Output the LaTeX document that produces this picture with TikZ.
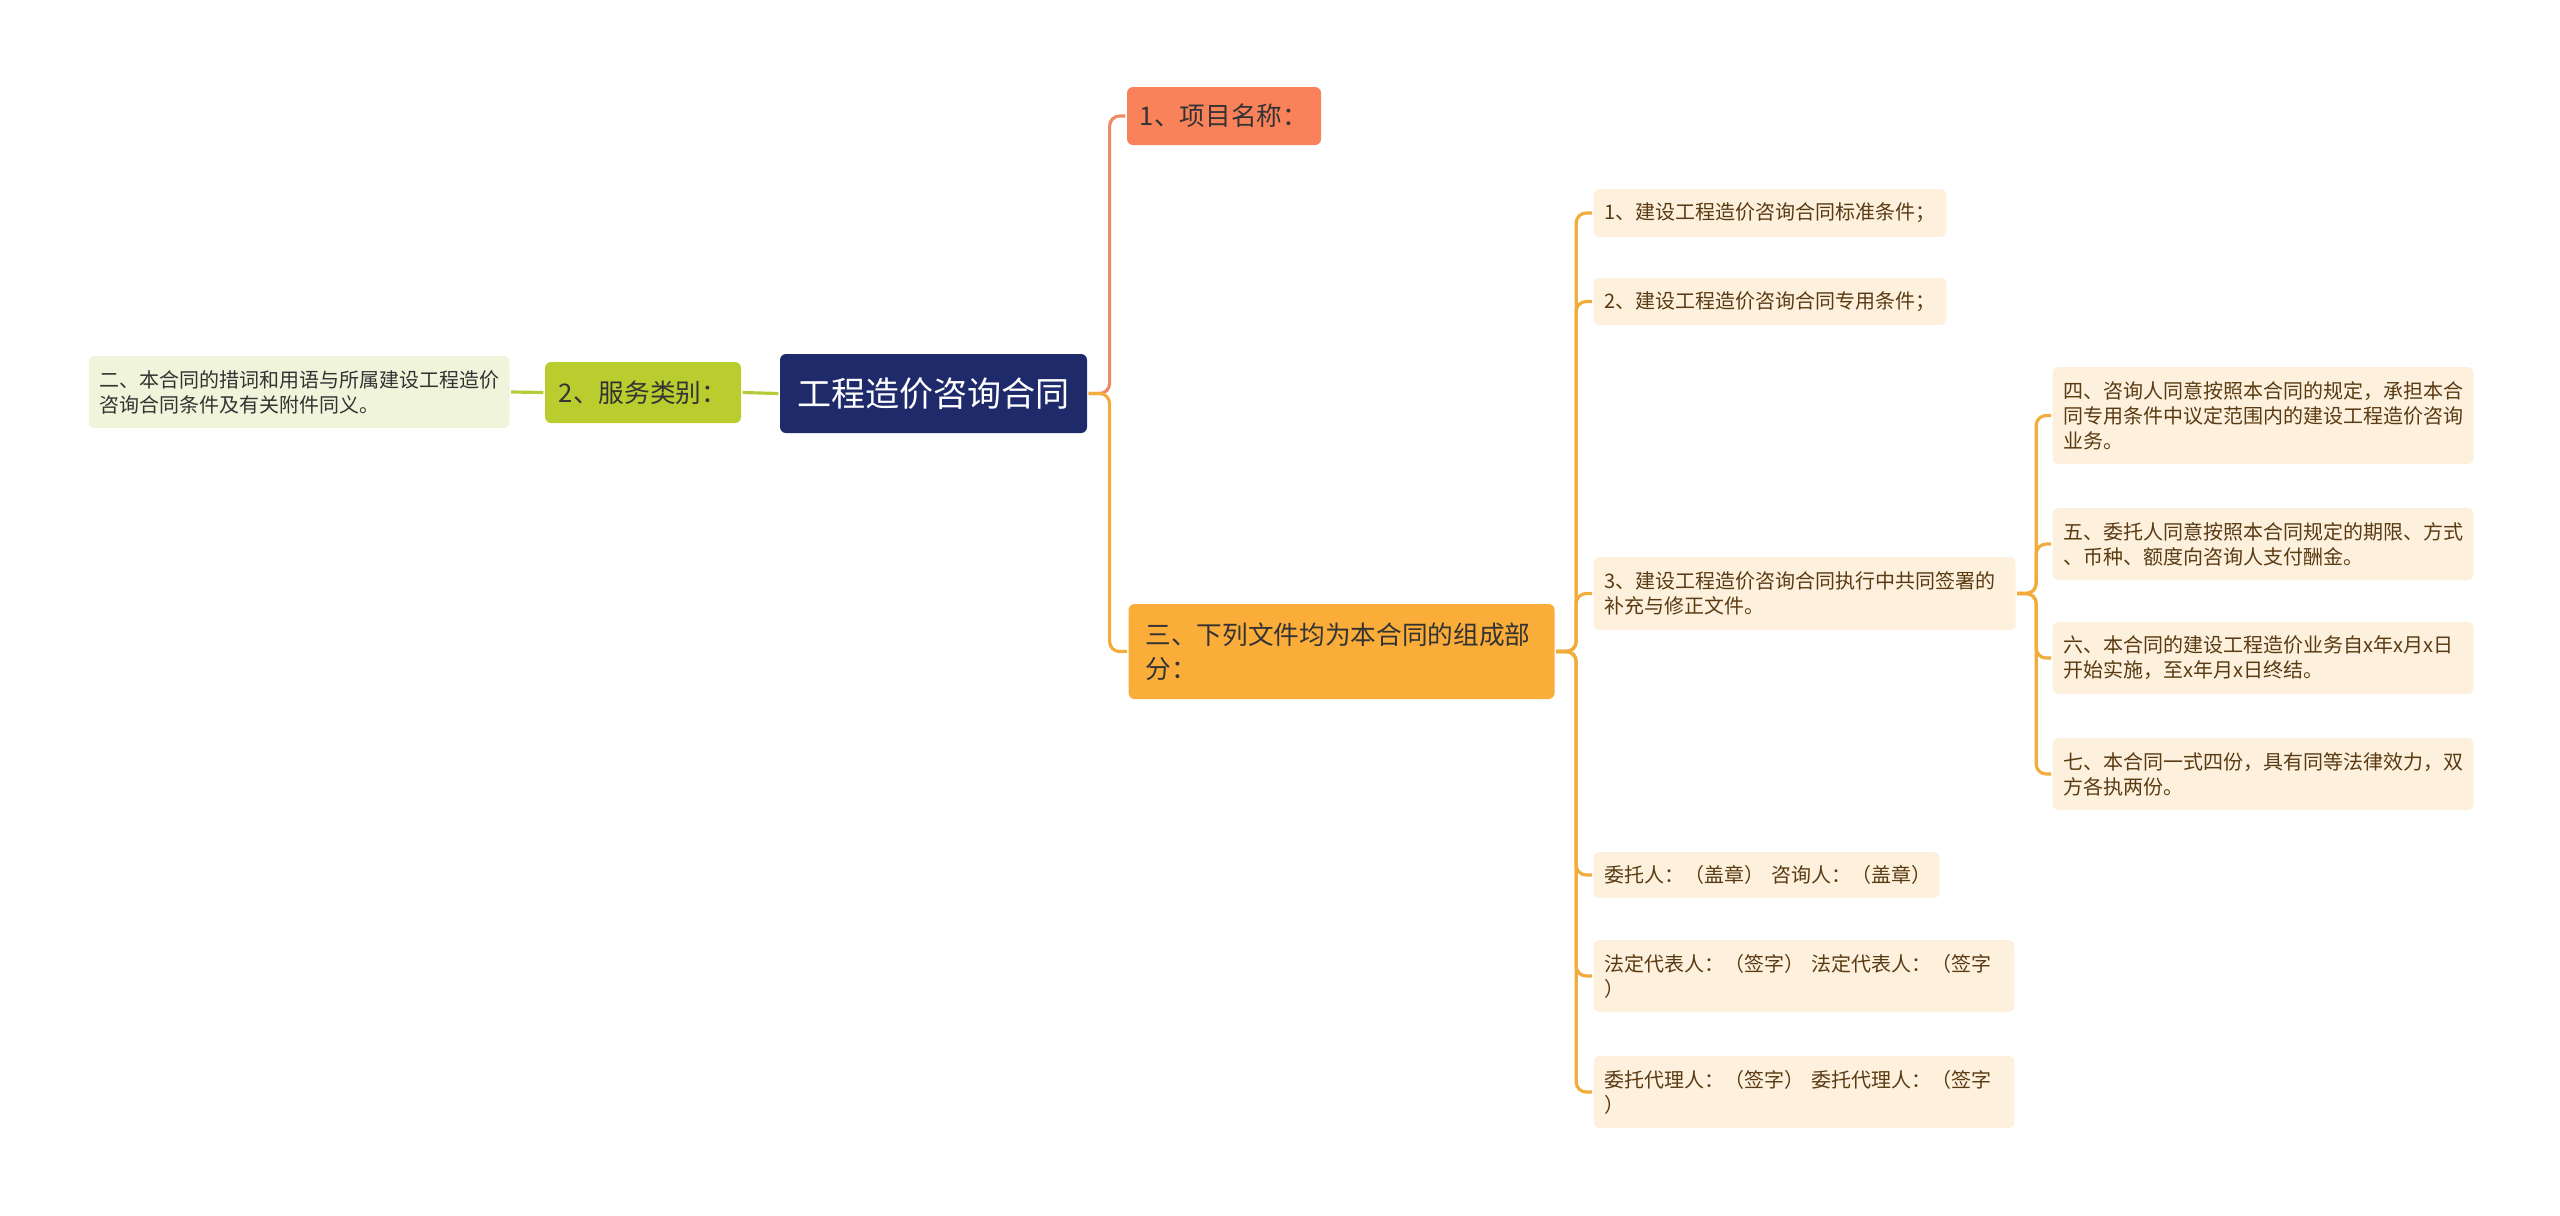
\documentclass[tikz,border=0pt]{standalone}
\usepackage{fontspec}
\setmainfont{Noto Sans CJK SC}
\usepackage{color}
\usepackage{tikz}
\definecolor{rootfill}{HTML}{1F2A6B}
\definecolor{greenfill}{HTML}{B9CD2E}
\definecolor{notefill}{HTML}{F0F4DA}
\definecolor{namefill}{HTML}{F9825A}
\definecolor{docsfill}{HTML}{FBAD3A}
\definecolor{leaffill}{HTML}{FDF1DD}
\definecolor{leaftext}{HTML}{5A3A12}
\definecolor{coralline}{HTML}{EE8A66}
\definecolor{orangeline}{HTML}{F2AC3C}
\definecolor{greenline}{HTML}{B7CA38}

\begin{document}
\begin{tikzpicture}[x=1cm, y=-1cm, line width = 0.9pt,
    box/.style = {rounded corners = 0.06cm, inner ysep = 0pt},
    topic/.style = {box, font = \fontsize{7.3}{9.6}\selectfont, text = black!80},
    leaf/.style = {box, anchor = west, fill = leaffill, text = leaftext, align = left,
        inner xsep = 0.11cm, font = \fontsize{5.69}{7.1}\selectfont},
    link/.style = {rounded corners = 0.1cm}]
\useasboundingbox (0,0) rectangle (25.6,12.15);
\draw (9.335,3.935) node[box, fill = rootfill, text = white, minimum width = 3.07cm,
        minimum height = 0.79cm, font = \fontsize{9.7}{12}\selectfont](root){工程造价咨询合同}
    (6.43,3.925) node[topic, fill = greenfill, minimum width = 1.96cm, minimum height = 0.61cm](svc){2、服务类别：}
    (0.87,3.92) node[leaf, fill = notefill, text = black!80, text width = 3.99cm, minimum height = 0.72cm](note){二、本合同的措词和用语与所属建设工程造价\\咨询合同条件及有关附件同义。}
    (12.24,1.16) node[topic, fill = namefill, minimum width = 1.94cm, minimum height = 0.58cm](name){1、项目名称：}
    (11.27,6.515) node[topic, anchor = west, fill = docsfill, align = left, inner xsep = 0.17cm,
        text width = 3.92cm, minimum height = 0.95cm](docs){三、下列文件均为本合同的组成部\\分：};
\draw (15.92,2.13) node[leaf, text width = 3.31cm, minimum height = 0.48cm](d1){1、建设工程造价咨询合同标准条件；}
    (15.92,3.015) node[leaf, text width = 3.31cm, minimum height = 0.47cm](d2){2、建设工程造价咨询合同专用条件；}
    (15.92,5.935) node[leaf, text width = 4.00cm, minimum height = 0.73cm](d3){3、建设工程造价咨询合同执行中共同签署的\\补充与修正文件。}
    (15.92,8.75) node[leaf, text width = 3.24cm, minimum height = 0.46cm](d4){委托人：（盖章）~咨询人：（盖章）}
    (15.92,9.76) node[leaf, text width = 3.99cm, minimum height = 0.72cm](d5){法定代表人：（签字）~法定代表人：（签字\\）}
    (15.92,10.92) node[leaf, text width = 3.99cm, minimum height = 0.72cm](d6){委托代理人：（签字）~委托代理人：（签字\\）};
\draw (20.51,4.155) node[leaf, text width = 3.99cm, minimum height = 0.97cm](e4){四、咨询人同意按照本合同的规定，承担本合\\同专用条件中议定范围内的建设工程造价咨询\\业务。}
    (20.51,5.44) node[leaf, text width = 3.99cm, minimum height = 0.72cm](e5){五、委托人同意按照本合同规定的期限、方式\\、币种、额度向咨询人支付酬金。}
    (20.51,6.58) node[leaf, text width = 3.99cm, minimum height = 0.72cm](e6){六、本合同的建设工程造价业务自x年x月x日\\开始实施，至x年月x日终结。}
    (20.51,7.74) node[leaf, text width = 3.99cm, minimum height = 0.72cm](e7){七、本合同一式四份，具有同等法律效力，双\\方各执两份。};
\draw [greenline] (root.west) -- (svc.east);
\draw [greenline] (svc.west) -- (note.east);
\draw [coralline, link] (root.east) -- ++(0.21,0) |- (name.west);
\draw [orangeline, link] (root.east) -- ++(0.21,0) |- (docs.west);
\draw [orangeline, link] (docs.east) -- ++(0.2,0) |- (d1.west);
\draw [orangeline, link] (docs.east) -- ++(0.2,0) |- (d2.west);
\draw [orangeline, link] (docs.east) -- ++(0.2,0) |- (d3.west);
\draw [orangeline, link] (docs.east) -- ++(0.2,0) |- (d4.west);
\draw [orangeline, link] (docs.east) -- ++(0.2,0) |- (d5.west);
\draw [orangeline, link] (docs.east) -- ++(0.2,0) |- (d6.west);
\draw [orangeline, link] (d3.east) -- ++(0.19,0) |- (e4.west);
\draw [orangeline, link] (d3.east) -- ++(0.19,0) |- (e5.west);
\draw [orangeline, link] (d3.east) -- ++(0.19,0) |- (e6.west);
\draw [orangeline, link] (d3.east) -- ++(0.19,0) |- (e7.west);
\end{tikzpicture}
\end{document}
